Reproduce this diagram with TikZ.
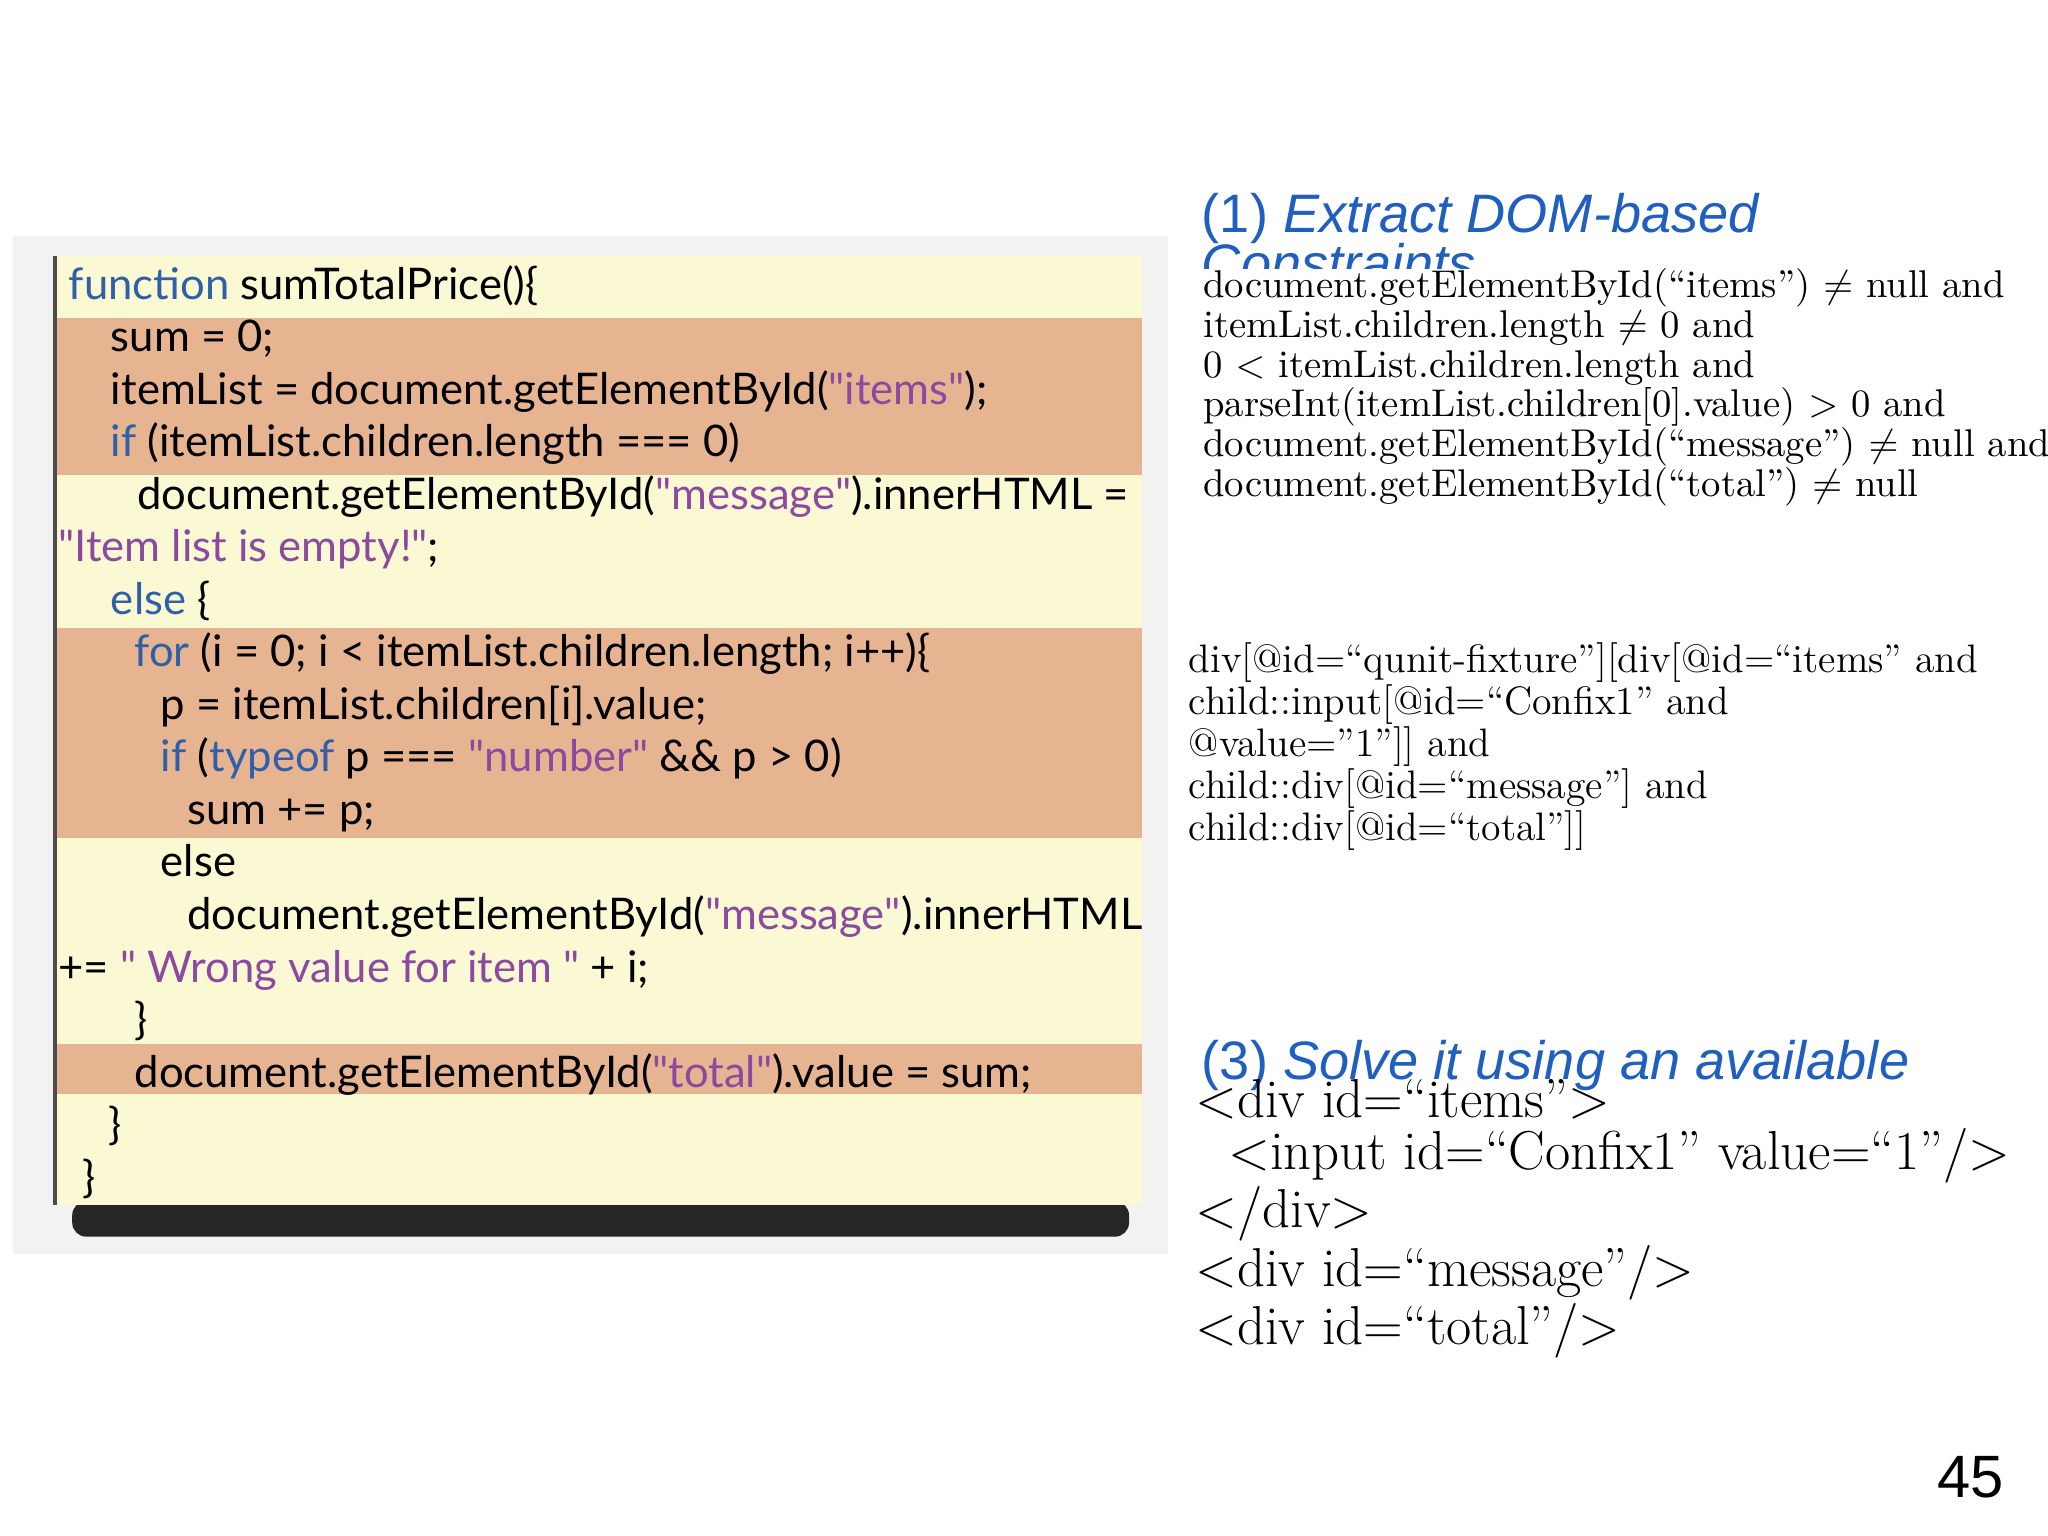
\documentclass[tikz,border=0pt]{standalone}
\usepackage{fontspec}
\setsansfont{Lato}
\setmainfont{Latin Modern Roman}
\newfontfamily\titlefont{Liberation Sans}
\definecolor{kw}{HTML}{2F5FA8}
\definecolor{st}{HTML}{8B4AA0}
\definecolor{band}{HTML}{E7B492}
\definecolor{paper}{HTML}{FBF8D4}
\definecolor{ttl}{HTML}{1F5FC0}
\newcommand{\K}[1]{\textcolor{kw}{#1}}
\newcommand{\Sg}[1]{\textcolor{st}{\textquotedbl#1\textquotedbl}}
\begin{document}
\begin{tikzpicture}[x=0.013128cm,y=-0.013128cm,
 code/.style={anchor=base west,inner sep=0,font=\sffamily\fontsize{12.4}{15}\selectfont},
 ttlt/.style={anchor=base west,inner sep=0,font=\titlefont\fontsize{15.4}{18}\selectfont,text=ttl}]
\useasboundingbox (0,0) rectangle (1560,1170);
\fill[black!5] (10,180) rectangle (890,955);
\fill[black!85,rounded corners=4] (55,915) rectangle (860,942);
\fill[paper] (42,195) rectangle (870,918);
\fill[band] (42,242) rectangle (870,362);
\fill[band] (42,478) rectangle (870,638);
\fill[band] (42,795) rectangle (870,833);
\draw[black!70,line width=1.2pt] (42,195) -- (42,918);
\node[code] (l1) at (52,228) {\K{function} sumTotalPrice()\{};
\node[code] (l2) at (84,268) {sum = 0;};
\node[code] (l3) at (84,308) {itemList = document.getElementById(\Sg{items});};
\node[code] (l4) at (84,348) {\K{if} (itemList.children.length === 0)};
\node[code] (l5) at (104,388) {document.getElementById(\Sg{message}).innerHTML =};
\node[code] (l6) at (44,428) {\Sg{Item list is empty!};};
\node[code] (l7) at (84,468) {\K{else} \{};
\node[code] (l8) at (102,508) {\K{for} (i = 0; i < itemList.children.length; i++)\{};
\node[code] (l9) at (122,548) {p = itemList.children[i].value;};
\node[code] (l10) at (122,588) {\K{if} (\K{typeof} p === \Sg{number} \&\& p > 0)};
\node[code] (l11) at (142,628) {sum += p;};
\node[code] (l12) at (122,668) {else};
\node[code] (l13) at (142,708) {document.getElementById(\Sg{message}).innerHTML};
\node[code] (l14) at (44,748) {+= \Sg{ Wrong value for item } + i;};
\node[code] (l15) at (102,788) {\}};
\node[code] (l16) at (102,828) {document.getElementById(\Sg{total}).value = sum;};
\node[code] (l17) at (82,868) {\}};
\node[code] (l18) at (62,908) {\}};
\node[ttlt] (t1) at (915,177) {(1) \textit{Extract DOM-based}};
\node[ttlt] (t1b) at (915,215) {\textit{Constraints}};
\node[anchor=base west,inner sep=0,align=left,fill=white,
 font=\rmfamily\fontsize{11}{11.3}\selectfont] (c1) at (916,378) {document.getElementById(“items”) $\neq$ null and\\
itemList.children.length $\neq$ 0 and\\
0 $<$ itemList.children.length and\\
parseInt(itemList.children[0].value) $>$ 0 and\\
document.getElementById(“message”) $\neq$ null and\\
document.getElementById(“total”) $\neq$ null};
\node[anchor=base west,inner sep=0,align=left,font=\rmfamily\fontsize{11.3}{11.9}\selectfont] (c2) at (905,640) {div[@id=“qunit-fixture”][div[@id=“items” and\\
child::input[@id=“Confix1” and\\
@value=”1”]] and\\
child::div[@id=“message”] and\\
child::div[@id=“total”]]};
\node[ttlt] (t3) at (915,822) {(3) \textit{Solve it using an available}};
\node[anchor=base west,inner sep=0,align=left,font=\rmfamily\fontsize{15.6}{14.9}\selectfont] (c3) at (910,1024) {<div id=“items”>\\
\hspace{0.6em}<input id=“Confix1” value=“1”/>\\
</div>\\
<div id=“message”/>\\
<div id=“total”/>};
\node[anchor=base east,inner sep=0,font=\titlefont\fontsize{17}{20}\selectfont] (pg) at (1527,1141) {45};
\end{tikzpicture}
\end{document}
